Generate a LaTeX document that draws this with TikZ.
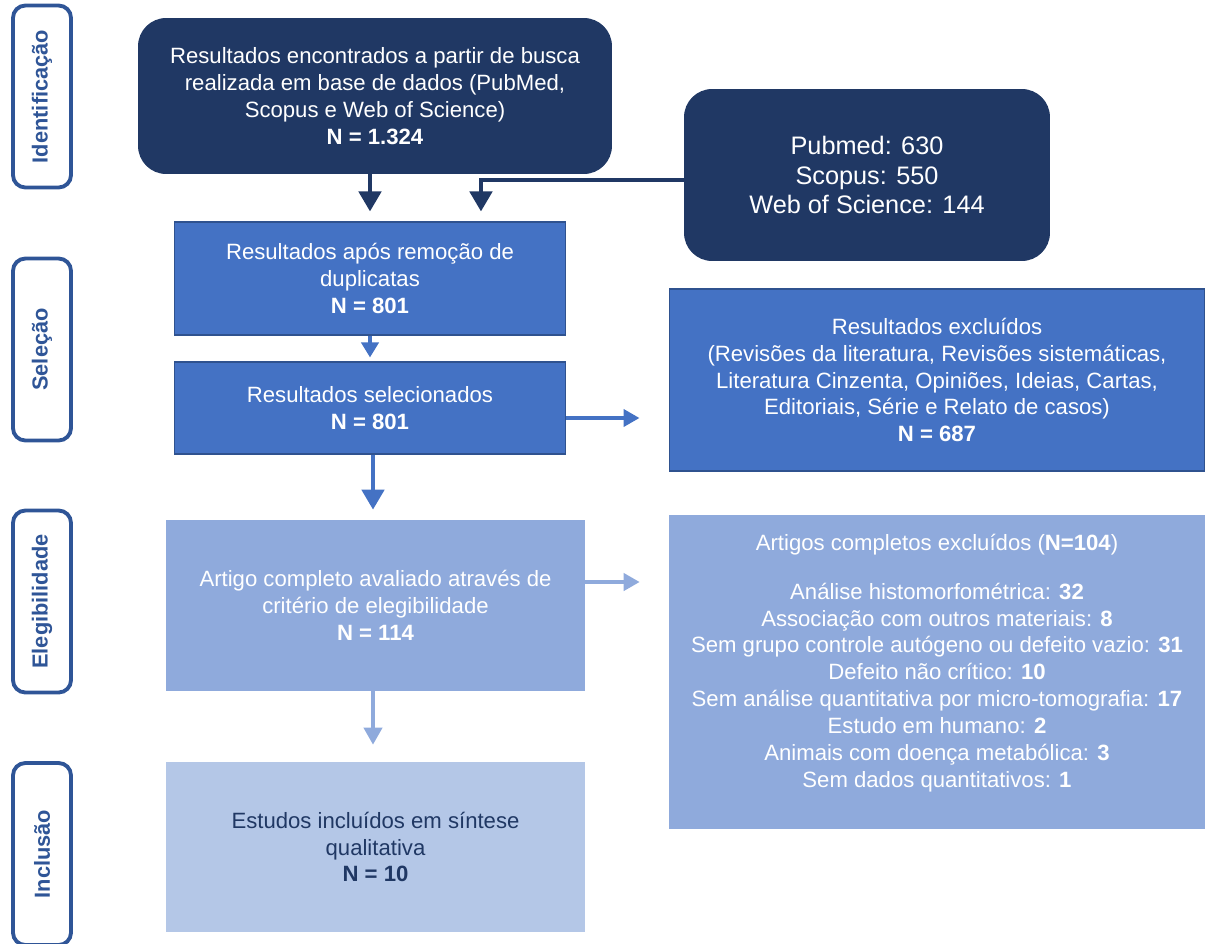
\documentclass[tikz,border=0pt]{standalone}
\usepackage{fontspec}
\setmainfont{Liberation Sans}
\usetikzlibrary{arrows.meta}
\definecolor{navy}{HTML}{203864}
\definecolor{midblue}{HTML}{4472C4}
\definecolor{lightblue}{HTML}{8FAADC}
\definecolor{paleblue}{HTML}{B4C7E7}
\definecolor{stageblue}{HTML}{2F5597}
\definecolor{edgeblue}{HTML}{2F528F}
\begin{document}
\begin{tikzpicture}[x=0.02cm,y=-0.02cm]

    \tikzset{
      stage/.style={
        draw=stageblue,
        line width=2.2pt,
        rounded corners=7pt,
        rotate=90,
        text=stageblue,
        font=\fontsize{12.4}{14}\selectfont\bfseries,
        minimum width=3.64cm,
        minimum height=1.16cm,
        inner sep=0pt,
      },
      box/.style={
        align=center,
        inner sep=0pt,
        text=white,
        font=\fontsize{12.6}{15.3}\selectfont,
      },
      darkbox/.style={box, fill=navy, rounded corners=16pt},
      midbox/.style={box, fill=midblue, draw=edgeblue, line width=0.6pt},
      lightbox/.style={box, fill=lightblue},
      palebox/.style={box, fill=paleblue, text=navy},
      arr/.style={
        line width=2.6pt,
        -{Triangle[width=0.44cm,length=0.4cm]},
      },
    }
    \useasboundingbox (0,0) rectangle (1205,944);

	\node[stage] (ident) at (42,96.5) {Identificação};
	\node[stage] (selec) at (42,349.5) {Seleção};
	\node[stage] (elegi) at (42,601.5) {Elegibilidade};
	\node[stage] (inclu) at (42,854) {Inclusão};

	\node[darkbox, minimum width=9.48cm, minimum height=3.12cm] (busca) at (375,96)
	  {Resultados encontrados a partir de busca\\realizada em base de dados (PubMed,\\Scopus e Web of Science)\\\textbf{N = 1.324}};
	\node[darkbox, minimum width=7.32cm, minimum height=3.44cm, font=\fontsize{14.4}{17}\selectfont] (bases) at (867,175)
	  {Pubmed: 630\\Scopus: 550\\Web of Science: 144};
	\node[midbox, minimum width=7.84cm, minimum height=2.26cm] (dup) at (370,278.5)
	  {Resultados após remoção de\\duplicatas\\\textbf{N = 801}};
	\node[midbox, minimum width=7.84cm, minimum height=1.84cm] (selecionados) at (370,408)
	  {Resultados selecionados\\\textbf{N = 801}};
	\node[midbox, minimum width=10.72cm, minimum height=3.64cm] (excluidos) at (937,380)
	  {Resultados excluídos\\(Revisões da literatura, Revisões sistemáticas,\\Literatura Cinzenta, Opiniões, Ideias, Cartas,\\Editoriais, Série e Relato de casos)\\\textbf{N = 687}};
	\node[lightbox, minimum width=8.38cm, minimum height=3.42cm] (completo) at (375.5,605.5)
	  {Artigo completo avaliado através de\\critério de elegibilidade\\\textbf{N = 114}};
	\node[lightbox, minimum width=10.72cm, minimum height=6.28cm] (artexc) at (937,672) {};
	\node[box, anchor=north] (artexctxt) at (937,534)
	  {Artigos completos excluídos (\textbf{N=104})\\[12.3pt]
	   Análise histomorfométrica: \textbf{32}\\
	   Associação com outros materiais: \textbf{8}\\
	   Sem grupo controle autógeno ou defeito vazio: \textbf{31}\\
	   Defeito não crítico: \textbf{10}\\
	   Sem análise quantitativa por micro-tomografia: \textbf{17}\\
	   Estudo em humano: \textbf{2}\\
	   Animais com doença metabólica: \textbf{3}\\
	   Sem dados quantitativos: \textbf{1}};
	\node[palebox, minimum width=8.38cm, minimum height=3.4cm] (incluidos) at (375.5,847)
	  {Estudos incluídos em síntese\\qualitativa\\\textbf{N = 10}};

	\draw[arr, navy, shorten >=0.2cm] (busca.south -| dup.north) -- (dup.north);
	\draw[arr, navy, shorten >=0.2cm] ([yshift=-0.1cm]bases.west) -| ([xshift=2.22cm]dup.north);
	\draw[arr, midblue, line width=2.2pt, -{Triangle[width=0.34cm,length=0.3cm]}, shorten >=0.08cm] (dup.south) -- (selecionados.north);
	\draw[arr, midblue, line width=2.2pt, -{Triangle[width=0.34cm,length=0.32cm]}, shorten >=0.58cm] ([yshift=-0.2cm]selecionados.east) -- ([yshift=-0.2cm]selecionados.east -| excluidos.west);
	\draw[arr, midblue, shorten >=0.2cm] ([xshift=0.06cm]selecionados.south) -- ([xshift=0.06cm]selecionados.south |- completo.north);
	\draw[arr, lightblue, line width=2.2pt, -{Triangle[width=0.34cm,length=0.32cm]}, shorten >=0.58cm] ([yshift=0.47cm]completo.east) -- ([yshift=0.47cm]completo.east -| artexc.west);
	\draw[arr, lightblue, line width=2.2pt, -{Triangle[width=0.36cm,length=0.34cm]}, shorten >=0.34cm] ([xshift=-0.05cm]completo.south) -- ([xshift=-0.05cm]completo.south |- incluidos.north);

\end{tikzpicture}
\end{document}
